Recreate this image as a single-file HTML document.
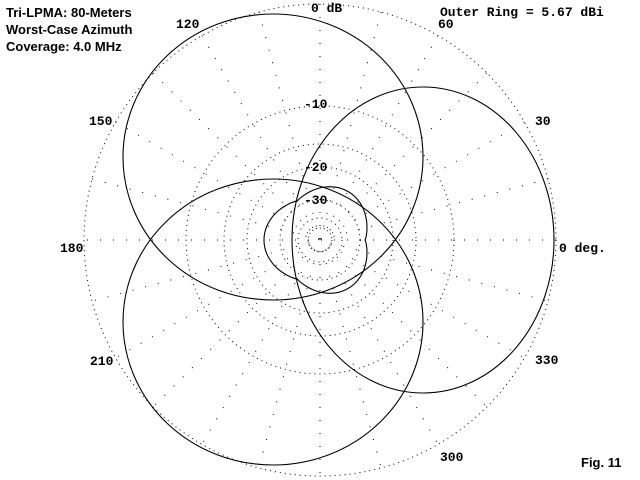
<!DOCTYPE html>
<html><head><meta charset="utf-8"><style>
html,body{margin:0;padding:0;background:#fff;width:640px;height:480px;overflow:hidden}
svg{display:block}
.m{font-family:"Liberation Mono",monospace;font-weight:bold;font-size:13px;fill:#000}
.s{font-family:"Liberation Sans",sans-serif;font-weight:bold;font-size:13px;fill:#000}
</style></head><body>
<svg id="sv" width="640" height="480" viewBox="0 0 640 480" xmlns="http://www.w3.org/2000/svg">
<g id="grid" fill="none" stroke="#000" stroke-width="1" stroke-dasharray="1 4">
<circle cx="320" cy="240" r="236"/>
<circle cx="320" cy="240" r="134"/>
<circle cx="320" cy="240" r="96"/>
<circle cx="320" cy="240" r="73"/>
<circle cx="320" cy="240" r="40"/>
<circle cx="320" cy="240" r="22"/>
<circle cx="320" cy="240" r="12" stroke-dasharray="1 3"/>
</g>
<g fill="none" stroke="#000" stroke-width="1.1">
<ellipse cx="423" cy="240" rx="131" ry="153"/>
<ellipse cx="273" cy="157" rx="150" ry="143"/>
<ellipse cx="273" cy="322" rx="150" ry="143"/>
<path id="inner" d=""/>
</g>
<text class="s" x="6" y="17">Tri-LPMA:  80-Meters</text>
<text class="s" x="6" y="34">Worst-Case Azimuth</text>
<text class="s" x="6" y="51">Coverage:  4.0 MHz</text>
<text class="m" x="311" y="12">0 dB</text>
<text class="m" x="176" y="28">120</text>
<text class="m" x="438" y="28">60</text>
<text class="m" x="440" y="16">Outer Ring = 5.67 dBi</text>
<text class="m" x="89" y="125">150</text>
<text class="m" x="535" y="125">30</text>
<text class="m" x="60" y="252">180</text>
<text class="m" x="559" y="252">0 deg.</text>
<text class="m" x="90" y="365">210</text>
<text class="m" x="535" y="364">330</text>
<text class="m" x="440" y="461">300</text>
<text class="s" x="581" y="467">Fig. 11</text>
<text class="m" x="304" y="108">-10</text>
<text class="m" x="304" y="171">-20</text>
<text class="m" x="304" y="204">-30</text>
</svg>
<script>
(function(){
var ns="http://www.w3.org/2000/svg",g=document.getElementById("grid");
for(var a=0;a<180;a+=15){
 var t=a*Math.PI/180,l=document.createElementNS(ns,"line");
 l.setAttribute("x1",320+236*Math.cos(t));l.setAttribute("y1",240-236*Math.sin(t));
 l.setAttribute("x2",320-236*Math.cos(t));l.setAttribute("y2",240+236*Math.sin(t));
 l.setAttribute("stroke-dasharray","1 12");g.appendChild(l);
}
var d="";
for(var i=0;i<=360;i+=2){
 var t=i*Math.PI/180,s=Math.abs(Math.sin(1.5*t)),r=45+11*(0.5*Math.pow(s,0.7)+0.5*s*s);
 d+=(i?"L":"M")+(320+r*Math.cos(t)).toFixed(1)+" "+(240-r*Math.sin(t)).toFixed(1);
}
document.getElementById("inner").setAttribute("d",d+"Z");
})();
</script>
</body></html>
